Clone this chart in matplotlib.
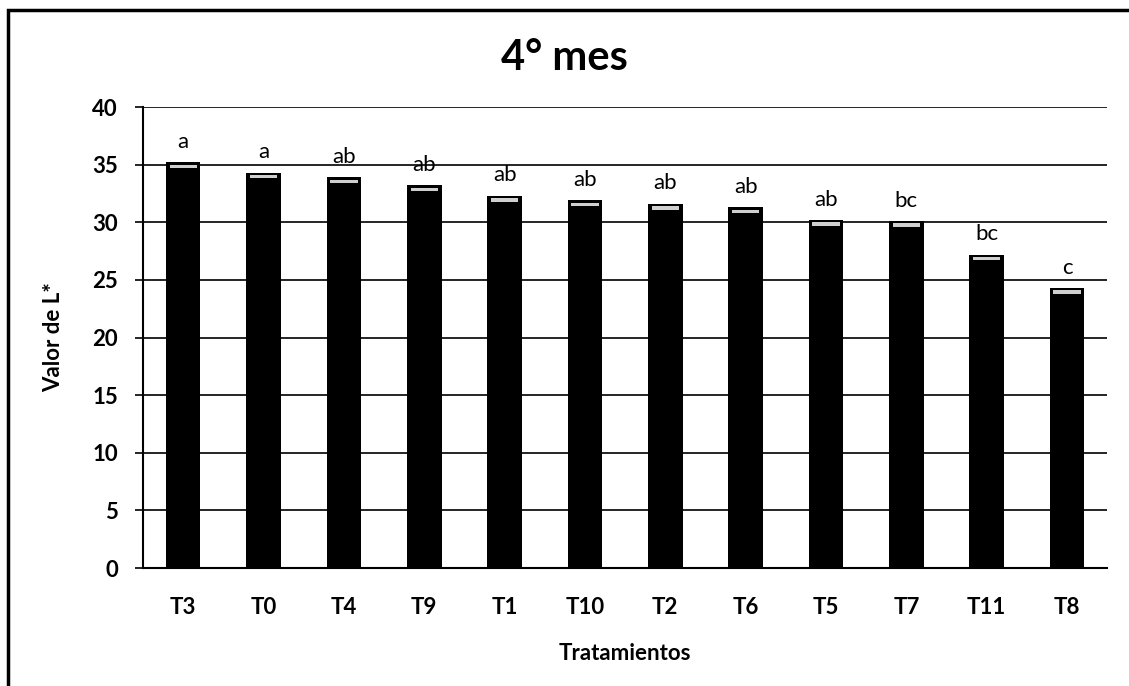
import matplotlib
matplotlib.use("Agg")
import matplotlib.pyplot as plt
from matplotlib.patches import Rectangle

tratamientos = ['T3', 'T0', 'T4', 'T9', 'T1', 'T10', 'T2', 'T6', 'T5', 'T7', 'T11', 'T8']
valores = [35.2, 34.3, 33.9, 33.2, 32.3, 31.9, 31.6, 31.3, 30.2, 30.1, 27.2, 24.3]
letras = ['a', 'a', 'ab', 'ab', 'ab', 'ab', 'ab', 'ab', 'ab', 'bc', 'bc', 'c']

plt.rcParams['font.family'] = ['Lato', 'DejaVu Sans']

fig = plt.figure(figsize=(11.29, 6.86), dpi=100)
fig.patches.append(Rectangle((0.007, -0.05), 1.1, 1.036, transform=fig.transFigure,
                             fill=False, edgecolor='black', linewidth=2.5, zorder=0))

ax = fig.add_axes([0.1267, 0.172, 0.854, 0.672])
x = range(len(tratamientos))
ax.bar(x, valores, width=0.43, color='black', zorder=3)

# light band at the top of each bar (cylinder look)
for i, v in zip(x, valores):
    ax.bar(i, 0.3, bottom=v - 0.5, width=0.34, color='#cfcfcf', zorder=4)

for i, v, l in zip(x, valores, letras):
    ax.text(i, v + 0.9, l, ha='center', va='bottom', fontsize=16, zorder=5)

ax.set_ylim(0, 40)
ax.set_xlim(-0.5, len(tratamientos) - 0.5)
ax.set_yticks(range(0, 41, 5))
ax.set_xticks(list(x))
ax.set_xticklabels(tratamientos)
ax.yaxis.grid(True, color='black', linewidth=1.2, zorder=0)
ax.set_axisbelow(True)
ax.tick_params(axis='y', length=6, width=1.2, labelsize=16, pad=12)
ax.tick_params(axis='x', length=0, labelsize=16, pad=21)
for t in ax.get_xticklabels() + ax.get_yticklabels():
    t.set_fontweight('bold')
for s in ['top', 'right']:
    ax.spines[s].set_visible(False)
ax.spines['left'].set_linewidth(1.5)
ax.spines['bottom'].set_linewidth(1.5)

fig.text(0.5, 0.915, '4° mes', fontsize=30, fontweight='bold', ha='center', va='center')
ax.set_ylabel('Valor de L*', fontsize=16, fontweight='bold', labelpad=20)
ax.set_xlabel('Tratamientos', fontsize=16, fontweight='bold', labelpad=18)

fig.savefig('out.png', dpi=100)
